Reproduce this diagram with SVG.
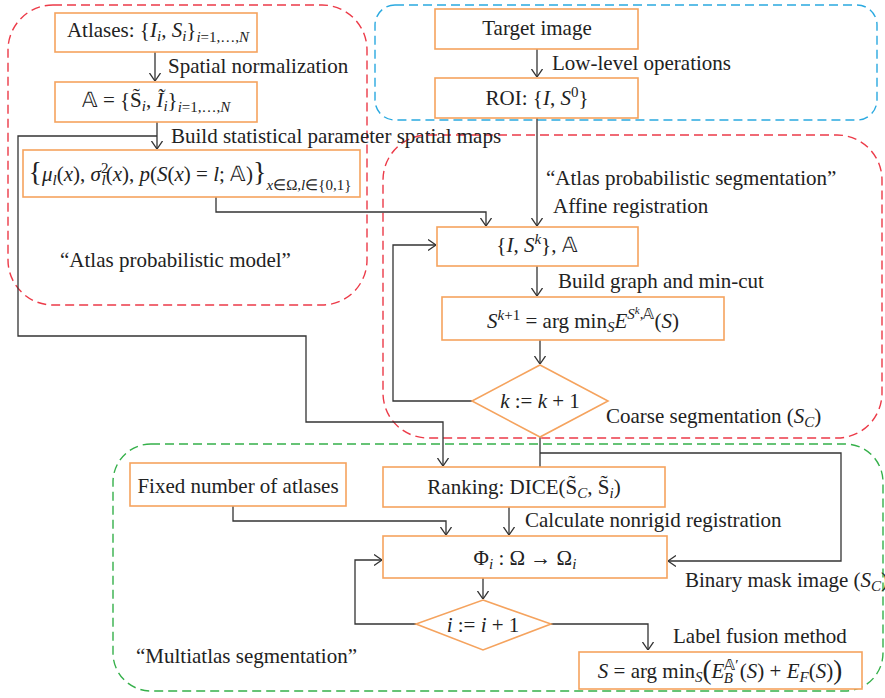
<svg xmlns="http://www.w3.org/2000/svg" width="885" height="698" viewBox="0 0 885 698">
<style>
text{font-family:"Liberation Serif","Times New Roman",serif;font-size:21px;fill:#222}
.i{font-style:italic}
.s{font-size:15px}
.ss{font-size:11px}
.node{fill:#fff;stroke:#F5A35E;stroke-width:1.6}
.grp{fill:none;stroke-width:1.4;stroke-dasharray:9 5}
.conn{fill:none;stroke:#333;stroke-width:1.3}
.arr{marker-end:url(#ah)}
</style>
<defs>
<marker id="ah" viewBox="0 0 8 12" refX="8" refY="6" markerWidth="8" markerHeight="12" markerUnits="userSpaceOnUse" orient="auto">
<path d="M0,0.5 L8,6 L0,11.5" fill="none" stroke="#333" stroke-width="1.3"/>
</marker>
</defs>

<g id="groups">
<rect class="grp" x="8" y="5" width="359" height="300" rx="45" stroke="#EC3A48"/>
<rect class="grp" x="375" y="5" width="502" height="115" rx="20" stroke="#2AA9E0"/>
<rect class="grp" x="383" y="135" width="499" height="303" rx="45" stroke="#EC3A48"/>
<rect class="grp" x="113" y="444" width="770" height="247" rx="38" stroke="#35B04A"/>
</g>

<g id="connectors">
<path class="conn arr" d="M155,52 V81"/>
<path class="conn arr" d="M157,122 V149"/>
<path class="conn arr" d="M157,136 H18 V336 H306 V422 H443 V466"/>
<path class="conn arr" d="M216,197 V212 H486 V226"/>
<path class="conn arr" d="M537,49 V77"/>
<path class="conn arr" d="M537,118 V226"/>
<path class="conn arr" d="M537,266 V296"/>
<path class="conn arr" d="M540,340 V364"/>
<path class="conn arr" d="M472,401 H393 V245 H436"/>
<path class="conn" d="M540,437 V467"/>
<path class="conn arr" d="M540,453 H841 V561 H668"/>
<path class="conn arr" d="M233,506 V521 H446 V535"/>
<path class="conn arr" d="M509,507 V535"/>
<path class="conn arr" d="M483,578 V599"/>
<path class="conn arr" d="M416,624 H355 V560 H382"/>
<path class="conn arr" d="M551,624 H648 V650"/>
</g>

<g id="labels">
<text x="168" y="73">Spatial normalization</text>
<text x="171" y="143">Build statistical parameter spatial maps</text>
<text x="60" y="267">“Atlas probabilistic model”</text>
<text x="552" y="70">Low-level operations</text>
<text x="546" y="185">“Atlas probabilistic segmentation”</text>
<text x="553" y="213">Affine registration</text>
<text x="558" y="288">Build graph and min-cut</text>
<text x="606" y="423">Coarse segmentation (<tspan class="i">S</tspan><tspan class="s i" dy="4">C</tspan><tspan dy="-4">)</tspan></text>
<text x="525" y="527">Calculate nonrigid registration</text>
<text x="685" y="587">Binary mask image (<tspan class="i">S</tspan><tspan class="s i" dy="4">C</tspan><tspan dy="-4">)</tspan></text>
<text x="673" y="643">Label fusion method</text>
<text x="136" y="663">“Multiatlas segmentation”</text>
</g>

<g id="n-atlases">
<rect class="node" x="55" y="13" width="202" height="39"/>
<text x="158" y="37" text-anchor="middle">Atlases: {<tspan class="i">I</tspan><tspan class="s i" dy="4">i</tspan><tspan dy="-4">, </tspan><tspan class="i">S</tspan><tspan class="s i" dy="4">i</tspan><tspan dy="-4">}</tspan><tspan class="s" dy="5"><tspan class="i">i</tspan>=1,…,<tspan class="i">N</tspan></tspan></text>
</g>

<g id="n-atlasset">
<rect class="node" x="55" y="82" width="202" height="40"/>
<text x="156" y="107" text-anchor="middle">𝔸 = {S̃<tspan class="s i" dy="4">i</tspan><tspan dy="-4">, </tspan><tspan class="i">Ĩ</tspan><tspan class="s i" dy="4">i</tspan><tspan dy="-4">}</tspan><tspan class="s" dy="5"><tspan class="i">i</tspan>=1,…,<tspan class="i">N</tspan></tspan></text>
</g>

<g id="n-stats">
<rect class="node" x="23" y="150" width="337" height="47"/>
<text x="190" y="181" text-anchor="middle" font-size="20"><tspan font-size="28">{</tspan><tspan class="i">μ</tspan><tspan class="s i" dy="4">l</tspan><tspan dy="-4">(</tspan><tspan class="i">x</tspan>), <tspan class="i">σ</tspan><tspan class="s" dy="-8">2</tspan><tspan class="s i" dx="-7" dy="12">l</tspan><tspan dy="-4">(</tspan><tspan class="i">x</tspan>), <tspan class="i">p</tspan>(<tspan class="i">S</tspan>(<tspan class="i">x</tspan>) = <tspan class="i">l</tspan>; 𝔸)<tspan font-size="28">}</tspan><tspan class="s" dy="9" font-size="14"><tspan class="i">x</tspan>∈Ω,<tspan class="i">l</tspan>∈{0,1}</tspan></text>
</g>

<g id="n-target">
<rect class="node" x="435" y="9" width="203" height="40"/>
<text x="537" y="35" text-anchor="middle">Target image</text>
</g>

<g id="n-roi">
<rect class="node" x="435" y="78" width="203" height="40"/>
<text x="537" y="105" text-anchor="middle">ROI: {<tspan class="i">I</tspan>, <tspan class="i">S</tspan><tspan class="s" dy="-8">0</tspan><tspan dy="8">}</tspan></text>
</g>

<g id="n-isk">
<rect class="node" x="437" y="227" width="201" height="39"/>
<text x="537" y="252" text-anchor="middle">{<tspan class="i">I</tspan>, <tspan class="i">S</tspan><tspan class="s i" dy="-8">k</tspan><tspan dy="8">}, 𝔸</tspan></text>
</g>

<g id="n-sk1">
<rect class="node" x="442" y="297" width="282" height="43"/>
<text x="583" y="328" text-anchor="middle"><tspan class="i">S</tspan><tspan class="s" dy="-8"><tspan class="i">k</tspan>+1</tspan><tspan dy="8"> = arg min</tspan><tspan class="s i" dy="4">S</tspan><tspan class="i" dy="-4">E</tspan><tspan class="s i" dy="-9">S</tspan><tspan class="ss i" dy="-5">k</tspan><tspan class="s" dy="5">,𝔸</tspan><tspan dy="9">(</tspan><tspan class="i">S</tspan>)</text>
</g>

<g id="n-kloop">
<polygon class="node" points="540,365 608,401 540,437 472,401"/>
<text x="540" y="408" text-anchor="middle"><tspan class="i">k</tspan> := <tspan class="i">k</tspan> + 1</text>
</g>

<g id="n-fixed">
<rect class="node" x="130" y="463" width="216" height="43"/>
<text x="238" y="493" text-anchor="middle">Fixed number of atlases</text>
</g>

<g id="n-ranking">
<rect class="node" x="383" y="467" width="282" height="40"/>
<text x="524" y="494" text-anchor="middle">Ranking: DICE(S̃<tspan class="s i" dy="4">C</tspan><tspan dy="-4">, S̃</tspan><tspan class="s i" dy="4">i</tspan><tspan dy="-4">)</tspan></text>
</g>

<g id="n-phi">
<rect class="node" x="383" y="536" width="284" height="42"/>
<text x="525" y="565" text-anchor="middle">Φ<tspan class="s i" dy="4">i</tspan><tspan dy="-4"> : Ω → Ω</tspan><tspan class="s i" dy="4">i</tspan></text>
</g>

<g id="n-iloop">
<polygon class="node" points="483,600 551,624 483,650 416,624"/>
<text x="483" y="632" text-anchor="middle"><tspan class="i">i</tspan> := <tspan class="i">i</tspan> + 1</text>
</g>

<g id="n-fusion">
<rect class="node" x="579" y="652" width="283" height="37"/>
<text x="720" y="678" text-anchor="middle"><tspan class="i">S</tspan> = arg min<tspan class="s i" dy="4">S</tspan><tspan font-size="27" dy="-3">(</tspan><tspan class="i" dy="-1">E</tspan><tspan class="s" dy="-8">𝔸′</tspan><tspan class="s i" dx="-15" dy="13">B</tspan><tspan dx="7" dy="-5">(</tspan><tspan class="i">S</tspan>) + <tspan class="i">E</tspan><tspan class="s i" dy="4">F</tspan><tspan dy="-4">(</tspan><tspan class="i">S</tspan>)<tspan font-size="27" dy="1">)</tspan></text>
</g>
</svg>
